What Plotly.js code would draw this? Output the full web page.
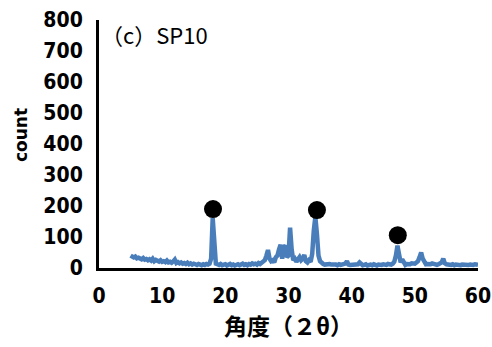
<!DOCTYPE html>
<html>
<head>
<meta charset="utf-8">
<script src="https://cdn.plot.ly/plotly-3.0.1.min.js"></script>
<style>
html,body{margin:0;padding:0;background:#fff;}
#chart{width:492px;height:347px;}
.xtick text, .ytick text { font-stretch: condensed !important; }
</style>
</head>
<body>
<div id="chart"></div>
<script>
// XRD pattern, 2θ from 5.00 to 60.00 in 0.25 steps (rows: d.00, d.25, d.50, d.75)
const angleStart = 5;
const angleStep = 0.25;
const counts = [
  40, 36, 34, 37,   // 5
  31, 33, 30, 28,   // 6
  32, 27, 29, 25,   // 7
  28, 24, 30, 22,   // 8
  26, 23, 21, 25,   // 9
  20, 22, 19, 24,   // 10
  18, 20, 17, 21,   // 11
  27, 16, 19, 15,   // 12
  18, 14, 16, 13,   // 13
  17, 12, 15, 11,   // 14
  14, 12, 10, 13,   // 15
  11, 9, 12, 10,    // 16
  13, 11, 14, 30,   // 17
  162, 60, 14, 12,  // 18
  10, 13, 9, 11,    // 19
  12, 8, 10, 13,    // 20
  9, 11, 8, 10,     // 21
  12, 9, 11, 14,    // 22
  10, 12, 9, 13,    // 23
  11, 15, 12, 14,   // 24
  11, 16, 13, 18,   // 25
  22, 25, 40, 58,   // 26
  30, 22, 25, 18,   // 27
  35, 40, 60, 75,   // 28
  30, 68, 72, 35,   // 29
  40, 130, 60, 25,  // 30
  30, 20, 28, 35,   // 31
  25, 30, 42, 22,   // 32
  18, 25, 20, 45,   // 33
  120, 165, 110, 40,// 34
  22, 15, 13, 11,   // 35
  12, 10, 13, 11,   // 36
  12, 10, 11, 9,    // 37
  12, 10, 11, 12,   // 38
  14, 22, 11, 10,   // 39
  10, 12, 9, 11,    // 40
  12, 18, 11, 9,    // 41
  10, 12, 8, 10,    // 42
  11, 9, 12, 10,    // 43
  8, 11, 9, 10,     // 44
  12, 11, 10, 13,   // 45
  12, 11, 14, 20,   // 46
  40, 72, 45, 18,   // 47
  28, 14, 10, 13,   // 48
  11, 12, 15, 13,   // 49
  14, 18, 22, 35,   // 50
  50, 30, 18, 12,   // 51
  13, 11, 12, 15,   // 52
  13, 11, 10, 12,   // 53
  14, 18, 30, 15,   // 54
  12, 11, 13, 10,   // 55
  12, 9, 11, 10,    // 56
  12, 9, 11, 10,    // 57
  12, 9, 10, 11,    // 58
  9, 10, 12, 11,    // 59
  10                // 60
];

// marked peaks (black circles)
const markAngles = [18.05, 34.5, 47.3];
const markCounts = [190, 187, 106];

const xTicks = [0, 10, 20, 30, 40, 50, 60];
const yTicks = [0, 100, 200, 300, 400, 500, 600, 700, 800];

const tickFont = {family: '"DejaVu Sans", sans-serif', size: 21, color: '#000', weight: 'bold'};

const traces = [
  {
    type: 'scatter', mode: 'lines',
    x0: angleStart, dx: angleStep, y: counts,
    line: {color: '#4a7ebb', width: 4.5},
    hoverinfo: 'skip'
  },
  {
    type: 'scatter', mode: 'markers',
    x: markAngles, y: markCounts,
    marker: {color: '#000', size: 18},
    hoverinfo: 'skip'
  }
];

const layout = {
  width: 492, height: 347,
  margin: {l: 99, r: 14, t: 20, b: 79},
  paper_bgcolor: '#fff', plot_bgcolor: '#fff',
  showlegend: false,
  xaxis: {
    range: [0, 60], tickvals: xTicks, ticktext: xTicks.map(String),
    showgrid: false, zeroline: false,
    showline: true, linecolor: '#000', linewidth: 3,
    ticks: '', ticklabelstandoff: 7, ticklabeloverflow: 'allow',
    tickfont: tickFont,
    title: {text: '角度（２θ）', standoff: 9,
      font: {family: '"Noto Sans CJK JP", sans-serif', size: 23, color: '#000', weight: 'bold'}}
  },
  yaxis: {
    range: [0, 800], tickvals: yTicks, ticktext: yTicks.map(String),
    showgrid: false, zeroline: false,
    showline: true, linecolor: '#000', linewidth: 3,
    ticks: '', ticklabelstandoff: 9, ticklabeloverflow: 'allow',
    tickfont: tickFont
  },
  annotations: [
    {
      xref: 'paper', yref: 'paper', x: 0.0, y: 1.015,
      xanchor: 'left', yanchor: 'top', showarrow: false,
      text: '（c）SP10',
      font: {family: '"Noto Sans CJK JP", sans-serif', size: 22, color: '#000'}
    },
    {
      xref: 'paper', yref: 'paper', x: -0.206, y: 0.536,
      xanchor: 'center', yanchor: 'middle', showarrow: false, textangle: -90,
      text: 'count',
      font: {family: '"DejaVu Sans", sans-serif', size: 17, color: '#000', weight: 'bold'}
    }
  ]
};

Plotly.newPlot('chart', traces, layout, {displayModeBar: false, staticPlot: true});
</script>
</body>
</html>
